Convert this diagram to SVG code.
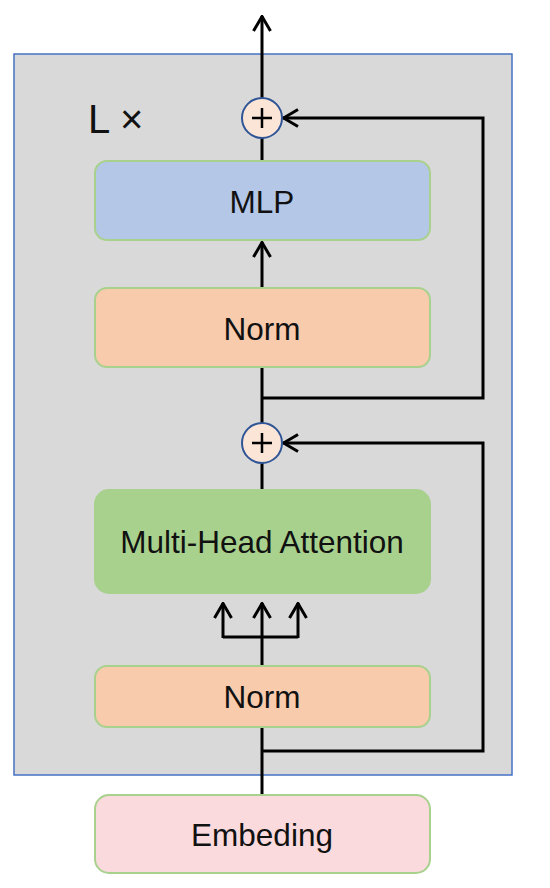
<svg xmlns="http://www.w3.org/2000/svg" width="550" height="888" viewBox="0 0 550 888">
<style>
.box{stroke:#a9d18e;stroke-width:2}
.lbl{font-family:"Liberation Sans",Arial,sans-serif;font-size:31.5px;fill:#111;text-anchor:middle}
.ln{fill:none;stroke:#000;stroke-width:3}
.add{fill:#fbe5d6;stroke:#2f5597;stroke-width:2}
.plus{stroke:#000;stroke-width:2.5}
</style>
<defs>
<marker id="ah" viewBox="0 0 18 20" refX="16.5" refY="10" markerWidth="18" markerHeight="20" markerUnits="userSpaceOnUse" orient="auto">
<path d="M1.5,1.5 L16,10 L1.5,18.5" fill="none" stroke="#000" stroke-width="3"/>
</marker>
</defs>
<rect x="0" y="0" width="550" height="888" fill="#fff"/>
<g id="container">
<rect x="14" y="54" width="498" height="721" fill="#d9d9d9" stroke="#4472c4" stroke-width="1.5"/>
<text x="88" y="133" style="font-family:'Liberation Sans',Arial,sans-serif;font-size:40px;fill:#111">L ×</text>
</g>
<g id="connectors">
<path class="ln" d="M262,98 V16" marker-end="url(#ah)"/>
<path class="ln" d="M262,161 V138"/>
<path class="ln" d="M262,288 V242" marker-end="url(#ah)"/>
<path class="ln" d="M262,367 V423"/>
<path class="ln" d="M262,398 H483 V118 H283" marker-end="url(#ah)"/>
<path class="ln" d="M262,463 V490"/>
<path class="ln" d="M262,666 V637"/>
<path class="ln" d="M223,637 H298"/>
<path class="ln" d="M223,638 V603" marker-end="url(#ah)"/>
<path class="ln" d="M262,638 V603" marker-end="url(#ah)"/>
<path class="ln" d="M298,638 V603" marker-end="url(#ah)"/>
<path class="ln" d="M262,795 V727"/>
<path class="ln" d="M262,751 H483 V443 H283" marker-end="url(#ah)"/>
</g>
<g id="add1">
<circle class="add" cx="262" cy="118" r="20"/>
<path class="plus" d="M252,118 H272 M262,108 V128"/>
</g>
<g id="add2">
<circle class="add" cx="262" cy="443" r="20"/>
<path class="plus" d="M252,443 H272 M262,433 V453"/>
</g>
<g id="mlp">
<rect class="box" x="95" y="161" width="335" height="79" rx="12" fill="#b4c7e7"/>
<text class="lbl" x="262" y="213">MLP</text>
</g>
<g id="norm1">
<rect class="box" x="95" y="288" width="335" height="79" rx="12" fill="#f8cbad"/>
<text class="lbl" x="262" y="340">Norm</text>
</g>
<g id="mha">
<rect class="box" x="95" y="490" width="335" height="103" rx="14" fill="#a9d18e"/>
<text class="lbl" x="262" y="553">Multi-Head Attention</text>
</g>
<g id="norm2">
<rect class="box" x="95" y="666" width="335" height="61" rx="12" fill="#f8cbad"/>
<text class="lbl" x="262" y="708">Norm</text>
</g>
<g id="embed">
<rect class="box" x="95" y="795" width="335" height="78" rx="14" fill="#fadadd"/>
<text class="lbl" x="262" y="846">Embeding</text>
</g>
</svg>
